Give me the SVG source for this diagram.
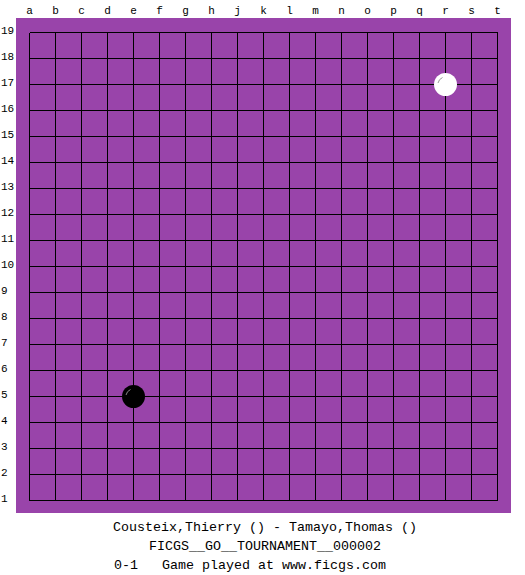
<svg xmlns="http://www.w3.org/2000/svg" width="525" height="575" viewBox="0 0 525 575">
<style>
.lbl{font-family:"Liberation Mono","DejaVu Sans Mono",monospace;font-size:11px;fill:#000}
.top{text-anchor:middle}
.info{font-family:"Liberation Mono","DejaVu Sans Mono",monospace;font-size:13.33px;fill:#000}
.grid{stroke:#000;stroke-width:1;fill:none;shape-rendering:crispEdges}
</style>
<rect width="525" height="575" fill="#fff"/>
<rect x="16" y="18" width="495" height="495" fill="#9944AA"/>
<g id="connectors">
<path class="grid" d="M29.5 32.5V500.5M55.5 32.5V500.5M81.5 32.5V500.5M107.5 32.5V500.5M133.5 32.5V500.5M159.5 32.5V500.5M185.5 32.5V500.5M211.5 32.5V500.5M237.5 32.5V500.5M263.5 32.5V500.5M289.5 32.5V500.5M315.5 32.5V500.5M341.5 32.5V500.5M367.5 32.5V500.5M393.5 32.5V500.5M419.5 32.5V500.5M445.5 32.5V500.5M471.5 32.5V500.5M497.5 32.5V500.5
M29.5 32.5H497.5M29.5 58.5H497.5M29.5 84.5H497.5M29.5 110.5H497.5M29.5 136.5H497.5M29.5 162.5H497.5M29.5 188.5H497.5M29.5 214.5H497.5M29.5 240.5H497.5M29.5 266.5H497.5M29.5 292.5H497.5M29.5 318.5H497.5M29.5 344.5H497.5M29.5 370.5H497.5M29.5 396.5H497.5M29.5 422.5H497.5M29.5 448.5H497.5M29.5 474.5H497.5M29.5 500.5H497.5"/>
</g>
<g id="col-labels" class="lbl top">
<text x="29.5" y="14">a</text><text x="55.5" y="14">b</text><text x="81.5" y="14">c</text><text x="107.5" y="14">d</text><text x="133.5" y="14">e</text><text x="159.5" y="14">f</text><text x="185.5" y="14">g</text><text x="211.5" y="14">h</text><text x="237.5" y="14">j</text><text x="263.5" y="14">k</text><text x="289.5" y="14">l</text><text x="315.5" y="14">m</text><text x="341.5" y="14">n</text><text x="367.5" y="14">o</text><text x="393.5" y="14">p</text><text x="419.5" y="14">q</text><text x="445.5" y="14">r</text><text x="471.5" y="14">s</text><text x="497.5" y="14">t</text>
</g>
<g id="row-labels" class="lbl">
<text x="1" y="34">19</text><text x="1" y="60">18</text><text x="1" y="86">17</text><text x="1" y="112">16</text><text x="1" y="138">15</text><text x="1" y="164">14</text><text x="1" y="190">13</text><text x="1" y="216">12</text><text x="1" y="242">11</text><text x="1" y="268">10</text><text x="1" y="294">9</text><text x="1" y="320">8</text><text x="1" y="346">7</text><text x="1" y="372">6</text><text x="1" y="398">5</text><text x="1" y="424">4</text><text x="1" y="450">3</text><text x="1" y="476">2</text><text x="1" y="502">1</text>
</g>
<g id="stone-r17">
<circle cx="445.5" cy="84.5" r="11.5" fill="#fff"/>
<path d="M438 83 A8 8 0 0 1 442.5 77.5" stroke="#999" stroke-width="1" fill="none"/>
</g>
<g id="stone-e5">
<circle cx="133.5" cy="396.5" r="11.5" fill="#000"/>
<path d="M126 395 A8 8 0 0 1 130.5 389.5" stroke="#888" stroke-width="1" fill="none"/>
</g>
<g id="info" class="info">
<text x="113" y="530.5">Cousteix,Thierry () - Tamayo,Thomas ()</text>
<text x="149" y="550">FICGS__GO__TOURNAMENT__000002</text>
<text x="114" y="569">0-1&#160;&#160;&#160;Game played at www.ficgs.com</text>
</g>
</svg>
